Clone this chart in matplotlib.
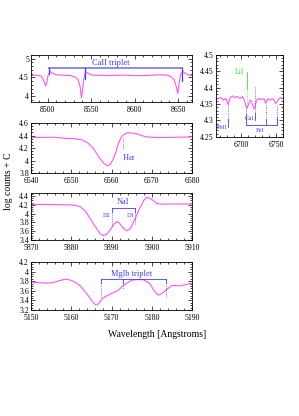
import matplotlib
matplotlib.use("Agg")
import matplotlib.pyplot as plt
from matplotlib.ticker import MultipleLocator, FormatStrFormatter

plt.rcParams["font.family"] = ["Liberation Serif", "DejaVu Serif"]
plt.rcParams["mathtext.fontset"] = "dejavuserif"

# --- spectra ---
ca_wave = [8481, 8488, 8493, 8495.5, 8497.7, 8499, 8500.5, 8503, 8506, 8510, 8518,
           8526, 8531, 8535, 8537.5, 8538.9, 8540.2, 8541.8, 8543.8, 8547, 8552,
           8560, 8570, 8580, 8590, 8600, 8610, 8620, 8630, 8638, 8642, 8645.5,
           8648, 8649.6, 8651, 8652.8, 8655.4, 8659, 8663, 8666]
ca_flux = [4.56, 4.56, 4.53, 4.42, 4.28, 4.34, 4.55, 4.66, 4.61, 4.57, 4.56,
           4.55, 4.52, 4.45, 4.25, 3.96, 4.15, 4.48, 4.66, 4.60, 4.56,
           4.56, 4.55, 4.56, 4.56, 4.55, 4.55, 4.56, 4.57, 4.56, 4.52, 4.44,
           4.25, 4.07, 4.30, 4.58, 4.66, 4.60, 4.56, 4.55]

ha_wave = [6540, 6542.5, 6545.5, 6548.9, 6551, 6552.8, 6554.2, 6555.5, 6557.1,
           6558.2, 6558.9, 6559.6, 6560.4, 6561.1, 6561.7, 6562.3, 6562.9, 6563.6,
           6564.3, 6565.2, 6566.3, 6567.5, 6568.7, 6571, 6573.7, 6577, 6580]
ha_flux = [4.37, 4.37, 4.375, 4.355, 4.35, 4.33, 4.28, 4.195, 4.035,
           3.95, 3.92, 3.93, 4.02, 4.14, 4.27, 4.36, 4.41, 4.435,
           4.445, 4.44, 4.43, 4.40, 4.38, 4.37, 4.37, 4.375, 4.38]

na_wave = [5870, 5874, 5877, 5879.7, 5881, 5882.2, 5883.5, 5884.7, 5886, 5887.2,
           5888, 5888.8, 5889.6, 5890.5, 5891.3, 5892, 5892.8, 5893.8, 5894.7,
           5895.8, 5897, 5898, 5898.7, 5899.5, 5900.4, 5901.2, 5902.5, 5904,
           5907, 5910]
na_flux = [4.21, 4.21, 4.205, 4.20, 4.19, 4.16, 4.06, 3.89, 3.70, 3.54,
           3.50, 3.53, 3.62, 3.75, 3.82, 3.78, 3.68, 3.61, 3.66,
           3.87, 4.12, 4.30, 4.37, 4.35, 4.30, 4.23, 4.215, 4.22,
           4.22, 4.22]

mg_wave = [5150, 5152, 5153.5, 5155.5, 5157, 5158.4, 5159.5, 5160.5, 5162, 5163,
           5164.2, 5165.1, 5166.1, 5166.8, 5167.5, 5168.5, 5169.6, 5171.7, 5172.9,
           5174, 5175, 5176.5, 5177.9, 5179, 5179.6, 5180.6, 5181.6, 5182.5,
           5183.3, 5185, 5186, 5187, 5188.5, 5190]
mg_flux = [3.78, 3.77, 3.76, 3.77, 3.81, 3.84, 3.83, 3.80, 3.72, 3.63,
           3.50, 3.39, 3.30, 3.33, 3.42, 3.48, 3.53, 3.61, 3.71,
           3.77, 3.82, 3.835, 3.83, 3.78, 3.74, 3.60, 3.51, 3.54,
           3.60, 3.71, 3.71, 3.70, 3.73, 3.76]

li_wave = [6664, 6667, 6671, 6674.8, 6677.5, 6679.8, 6681.5, 6684.3, 6687.6, 6691,
           6694.8, 6698.5, 6702, 6705.2, 6707.6, 6709, 6710.5, 6712.9, 6715,
           6717.6, 6719.5, 6721.9, 6725.7, 6729, 6732.9, 6735.2, 6738, 6742.4,
           6746, 6749.5, 6752.9, 6756.7, 6760]
li_flux = [4.364, 4.367, 4.370, 4.362, 4.367, 4.360, 4.347, 4.370, 4.375, 4.370,
           4.373, 4.367, 4.373, 4.359, 4.340, 4.338, 4.349, 4.362, 4.359,
           4.339, 4.335, 4.362, 4.367, 4.364, 4.366, 4.352, 4.366, 4.362,
           4.366, 4.352, 4.362, 4.370, 4.366]

MAG = "#ff55ff"
BLUE = "#3c3cff"
GREEN = "#44dd44"
FS = 5.6


def setup(ax, xlim, ylim, xmaj, xmin, ymaj, ymin, yfmt="%g"):
    ax.set_xlim(*xlim)
    ax.set_ylim(*ylim)
    ax.xaxis.set_major_locator(MultipleLocator(xmaj))
    ax.xaxis.set_minor_locator(MultipleLocator(xmin))
    ax.yaxis.set_major_locator(MultipleLocator(ymaj))
    ax.yaxis.set_minor_locator(MultipleLocator(ymin))
    ax.yaxis.set_major_formatter(FormatStrFormatter(yfmt))
    ax.xaxis.set_major_formatter(FormatStrFormatter("%g"))
    ax.tick_params(which="both", direction="in", top=True, right=True,
                   labelsize=FS, width=0.5, pad=1.5)
    ax.tick_params(axis="x", which="both", pad=2.8)
    ax.tick_params(which="major", length=3)
    ax.tick_params(which="minor", length=1.5)
    for s in ax.spines.values():
        s.set_linewidth(0.6)


def vline(ax, x, y0, y1, color=BLUE, ls="-", lw=0.6):
    ax.plot([x, x], [y0, y1], color=color, ls=ls, lw=lw)


fig = plt.figure(figsize=(2.99, 4.16), dpi=100)

# CaII triplet
ax1 = fig.add_axes([0.1037, 0.755, 0.5385, 0.113])
ax1.plot(ca_wave, ca_flux, color=MAG, lw=0.8)
setup(ax1, (8481, 8666), (3.85, 5.1), 50, 10, 0.5, 0.1)
ax1.plot([8501.5, 8654.2], [4.757, 4.757], color=BLUE, lw=1.2, alpha=0.7)
for xw, yb in [(8501.5, 4.60), (8543.5, 4.45), (8654.2, 4.40)]:
    vline(ax1, xw, 4.757, yb, lw=0.9)
ax1.text(8573, 4.88, "CaII triplet", color=BLUE, fontsize=FS + 0.4,
         ha="center", va="center")

# Li panel
ax2 = fig.add_axes([0.7224, 0.671, 0.224, 0.197])
ax2.plot(li_wave, li_flux, color=MAG, lw=0.8)
setup(ax2, (6664, 6760), (4.25, 4.5), 50, 10, 0.05, 0.01)
vline(ax2, 6708.5, 4.449, 4.395, color=GREEN)
vline(ax2, 6708.5, 4.395, 4.345, color=GREEN, ls=":")
ax2.text(6705, 4.447, "LiI", color=GREEN, fontsize=FS, ha="right", va="center")
vline(ax2, 6681.5, 4.345, 4.305, ls=":")
vline(ax2, 6681.5, 4.305, 4.279)
ax2.text(6680.5, 4.279, "FeII", color=BLUE, fontsize=FS - 0.8, ha="right", va="center")
vline(ax2, 6719.5, 4.403, 4.324, ls=":")
vline(ax2, 6719.5, 4.324, 4.300)
ax2.text(6719, 4.307, "CaI", color=BLUE, fontsize=FS - 0.8, ha="right", va="center")
ax2.plot([6706.5, 6751.5], [4.287, 4.287], color=BLUE, lw=0.6)
for xw, ytop in [(6706.5, 4.319), (6735.2, 4.306), (6751.5, 4.311)]:
    vline(ax2, xw, 4.287, ytop)
    vline(ax2, xw, ytop, 4.348, ls=":")
ax2.text(6727, 4.269, "FeI", color=BLUE, fontsize=FS - 0.8, ha="center", va="center")

# H alpha
ax3 = fig.add_axes([0.1037, 0.584, 0.5385, 0.120])
ax3.plot(ha_wave, ha_flux, color=MAG, lw=0.8)
setup(ax3, (6540, 6580), (3.8, 4.6), 10, 2, 0.2, 0.05)
vline(ax3, 6562.9, 4.34, 4.17, ls=":")
ax3.text(6564.2, 4.06, r"H$\alpha$", color=BLUE, fontsize=FS + 0.4,
         ha="center", va="center")

# NaI doublet
ax4 = fig.add_axes([0.1037, 0.423, 0.5385, 0.113])
ax4.plot(na_wave, na_flux, color=MAG, lw=0.8)
setup(ax4, (5870, 5910), (3.4, 4.47), 10, 2, 0.2, 0.05)
ax4.plot([5890.0, 5895.8], [4.14, 4.14], color=BLUE, lw=0.6)
vline(ax4, 5890.0, 4.14, 4.04)
vline(ax4, 5895.8, 4.14, 4.04)
vline(ax4, 5890.0, 4.04, 3.70, ls=":")
vline(ax4, 5895.8, 4.04, 3.74, ls=":")
ax4.text(5889.8, 3.95, "D2", color=BLUE, fontsize=FS - 1.0, ha="right", va="center")
ax4.text(5895.6, 3.95, "D1", color=BLUE, fontsize=FS - 1.0, ha="right", va="center")
ax4.text(5892.9, 4.26, "NaI", color=BLUE, fontsize=FS + 0.4, ha="center", va="center")

# MgIb triplet
ax5 = fig.add_axes([0.1037, 0.255, 0.5385, 0.115])
ax5.plot(mg_wave, mg_flux, color=MAG, lw=0.8)
setup(ax5, (5150, 5190), (3.2, 4.2), 10, 2, 0.2, 0.05)
ax5.plot([5167.3, 5183.5], [3.85, 3.85], color=BLUE, lw=0.6)
for xw, ybot in [(5167.3, 3.45), (5172.8, 3.64), (5183.5, 3.46)]:
    vline(ax5, xw, 3.85, 3.77)
    vline(ax5, xw, 3.77, ybot, ls=":")
ax5.text(5175, 3.96, "MgIb triplet", color=BLUE, fontsize=FS + 0.4,
         ha="center", va="center")

fig.text(0.525, 0.197, "Wavelength [Angstroms]", fontsize=7, ha="center", va="center")
fig.text(0.027, 0.565, "log counts + C", fontsize=7, rotation=90,
         ha="center", va="center")

fig.savefig("out.png", dpi=100)
